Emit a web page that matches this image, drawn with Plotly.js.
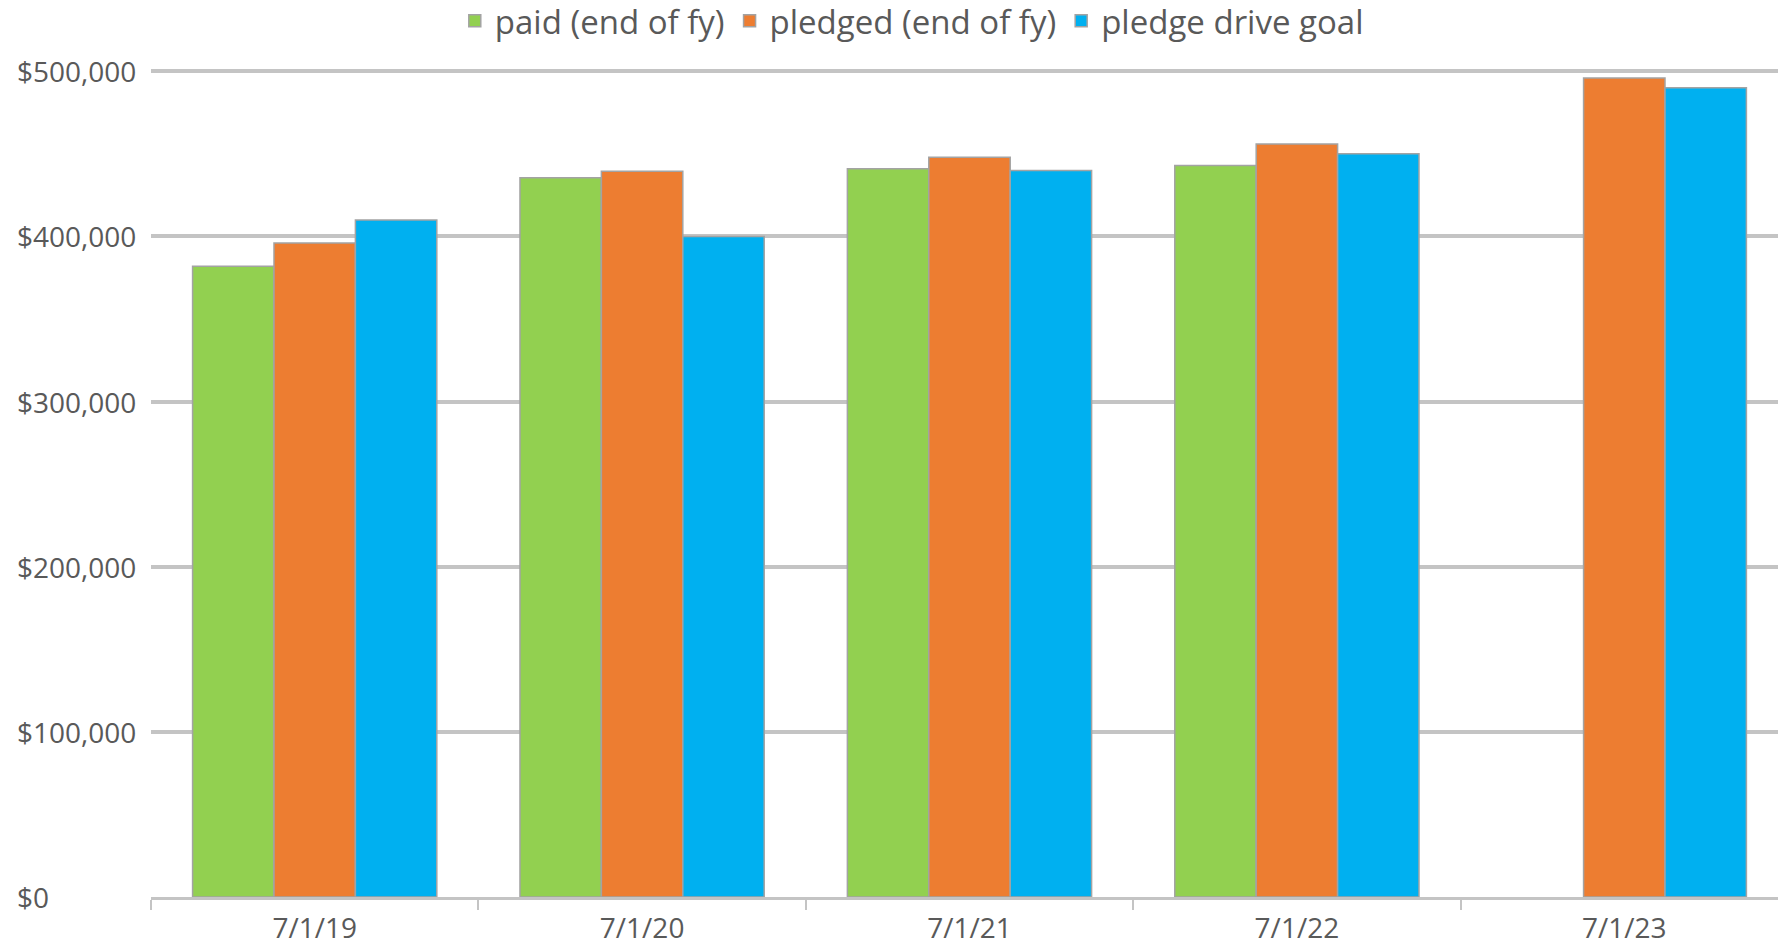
<!DOCTYPE html>
<html>
<head>
<meta charset="utf-8">
<script src="https://cdn.plot.ly/plotly-3.0.1.min.js"></script>
<style>
  html, body { margin: 0; padding: 0; background: #ffffff; }
  #chart { width: 1778px; height: 947px; }
</style>
</head>
<body>
<div id="chart"></div>
<script>
// ---- data ----
const categories = ["7/1/19", "7/1/20", "7/1/21", "7/1/22", "7/1/23"];
const paid = [382000, 435500, 441000, 443000, null];
const pledged = [396000, 439500, 448000, 456000, 496000];
const goal = [410000, 400000, 440000, 450000, 490000];
const seriesNames = ["paid (end of fy)", "pledged (end of fy)", "pledge drive goal"];
const yTickVals = [0, 100000, 200000, 300000, 400000, 500000];
const yTickText = ["$0", "$100,000", "$200,000", "$300,000", "$400,000", "$500,000"];

// ---- style ----
const colors = ["#92D050", "#ED7D31", "#00B0F0"];
const textColor = "#595959";
const gridColor = "#c4c4c4";
const fontFamily = "'Open Sans', 'Noto Sans', sans-serif";

const seriesValues = [paid, pledged, goal];
const traces = seriesValues.map((vals, i) => ({
  type: "bar",
  name: seriesNames[i],
  x: categories,
  y: vals,
  marker: { color: colors[i], line: { color: "#a3a3a3", width: 1.5 } },
  hoverinfo: "none"
}));

const annotations = yTickVals.map((v, i) => ({
  xref: "paper", yref: "y",
  x: -0.0836, y: v,
  xanchor: "left", yanchor: "middle",
  text: yTickText[i],
  showarrow: false,
  font: { family: fontFamily, size: 28, color: textColor }
}));

const layout = {
  width: 1778,
  height: 947,
  margin: { l: 151, r: 0, t: 68, b: 50, pad: 0, autoexpand: false },
  paper_bgcolor: "#ffffff",
  plot_bgcolor: "#ffffff",
  barmode: "group",
  bargap: 0.254,
  bargroupgap: 0,
  font: { family: fontFamily, size: 28, color: textColor },
  showlegend: true,
  legend: {
    orientation: "h",
    xref: "paper",
    yref: "container",
    x: 0.4676, xanchor: "center",
    y: 0.978, yanchor: "middle",
    font: { family: fontFamily, size: 33, color: textColor },
    bgcolor: "rgba(0,0,0,0)",
    traceorder: "normal"
  },
  xaxis: {
    type: "category",
    range: [-0.5, 4.4695],
    automargin: false,
    showgrid: false,
    showline: true,
    linecolor: gridColor,
    linewidth: 3,
    ticks: "outside",
    tickson: "boundaries",
    ticklen: 10,
    tickwidth: 2,
    tickcolor: gridColor,
    ticklabelstandoff: 4,
    tickfont: { family: fontFamily, size: 28, color: textColor },
    fixedrange: true
  },
  yaxis: {
    range: [0, 502000],
    automargin: false,
    tickvals: yTickVals,
    showticklabels: false,
    showgrid: true,
    gridcolor: gridColor,
    gridwidth: 4,
    zeroline: false,
    showline: false,
    ticks: "",
    fixedrange: true
  },
  annotations: annotations
};

Plotly.newPlot("chart", traces, layout, { staticPlot: true, displayModeBar: false });
</script>
</body>
</html>
